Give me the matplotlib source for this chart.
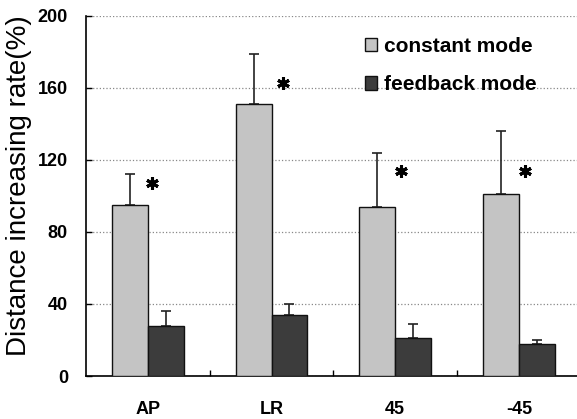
import matplotlib
matplotlib.use("Agg")
import matplotlib.pyplot as plt
import numpy as np

categories = ['AP', 'LR', '45', '-45']
constant = [95, 151, 94, 101]
constant_err = [17, 28, 30, 35]
feedback = [28, 34, 21, 18]
feedback_err = [8, 6, 8, 2]
star_y = [107, 163, 114, 114]
star_dx = [0.03, 0.09, 0.05, 0.05]
yticks = [0, 40, 80, 120, 160, 200]

plt.rcParams['font.family'] = ['Liberation Sans', 'DejaVu Sans']

fig = plt.figure(figsize=(5.77, 4.19), dpi=100)
ax = fig.add_axes([86/577, 1-376/419, 1-86/577, (376-16)/419])

x = np.arange(len(categories))
w = 0.29
ax.bar(x - w/2, constant, w, color='#c4c4c4', edgecolor='#111111', linewidth=1.0,
       label='constant mode', zorder=3)
ax.bar(x + w/2, feedback, w, color='#3c3c3c', edgecolor='#111111', linewidth=1.0,
       label='feedback mode', zorder=3)
ax.errorbar(x - w/2, constant, yerr=[np.zeros(len(x)), constant_err], fmt='none',
            ecolor='#222222', elinewidth=1.2, capsize=3.5, capthick=1.2, zorder=2)
ax.errorbar(x + w/2, feedback, yerr=[np.zeros(len(x)), feedback_err], fmt='none',
            ecolor='#222222', elinewidth=1.2, capsize=3.5, capthick=1.2, zorder=2)
ax.plot(x + np.array(star_dx), star_y, linestyle='none', marker=(6, 2, 0),
        markersize=9, markeredgewidth=2.2, color='black', zorder=4)

ax.set_xlim(-0.5, 3.47)
ax.set_ylim(0, 200)
ax.set_yticks(yticks)
ax.set_yticklabels([str(v) for v in yticks], fontsize=13, fontweight='bold')
ax.yaxis.grid(True, linestyle=':', color='#888888', linewidth=0.9, zorder=0)
ax.set_axisbelow(True)

ax.set_xticks([0.5, 1.5, 2.5])
ax.set_xticklabels([])
ax.set_xticks(x, minor=True)
ax.set_xticklabels(categories, minor=True, fontsize=13, fontweight='bold')
ax.tick_params(axis='x', which='major', direction='in', length=4, width=1)
ax.tick_params(axis='x', which='minor', length=0, pad=18)
ax.tick_params(axis='y', direction='in', length=4, width=1, pad=13)

for s in ['top', 'right']:
    ax.spines[s].set_visible(False)
for s in ['left', 'bottom']:
    ax.spines[s].set_linewidth(1.2)

ax.set_ylabel('Distance increasing rate(%)', fontsize=20)
ax.yaxis.set_label_coords(-0.110, 0.528)

ax.legend(loc='upper left', bbox_to_anchor=(0.53, 0.995), frameon=False,
          prop={'size': 15, 'weight': 'bold'}, handlelength=0.6, handleheight=0.6,
          handletextpad=0.3, labelspacing=0.95)

fig.savefig('out.png', dpi=100)
